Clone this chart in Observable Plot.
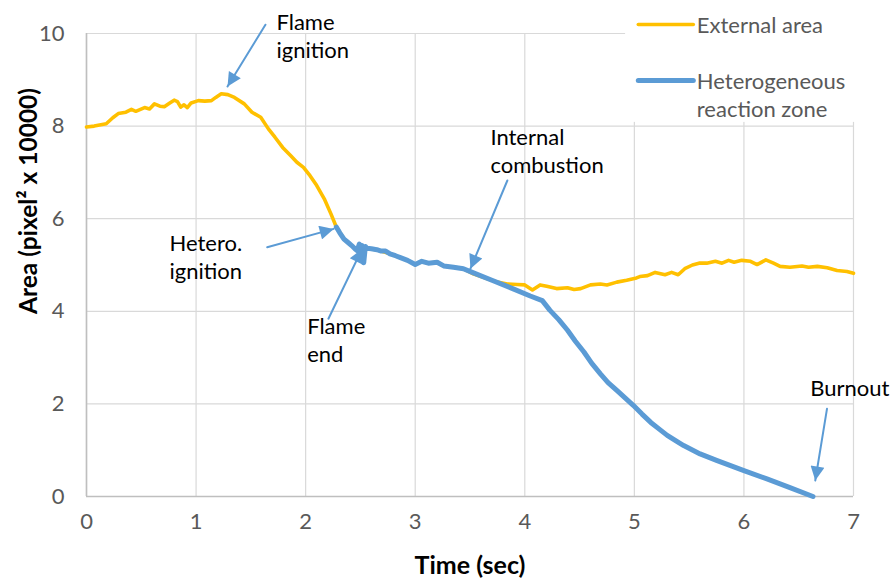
<!DOCTYPE html>
<html>
<head>
<meta charset="utf-8">
<script src="https://cdn.jsdelivr.net/npm/d3@7"></script>
<script src="https://cdn.jsdelivr.net/npm/@observablehq/plot@0.6"></script>
<style>
  html, body { margin: 0; padding: 0; background: #fff; }
  #chart svg { display: block; overflow: visible; }
</style>
</head>
<body>
<div id="chart"></div>
<script>
// ---- Data ----
const externalTime = [0,0.07,0.18,0.24,0.29,0.36,0.41,0.45,0.53,0.575,0.62,0.67,0.71,0.76,0.80,0.83,0.86,0.89,0.92,0.955,1.02,1.08,1.14,1.18,1.23,1.29,1.35,1.44,1.51,1.59,1.66,1.72,1.79,1.86,1.92,1.98,2.04,2.10,2.17,2.23,2.28,2.35,2.42,2.47,2.55,2.65,2.77,2.93,3.00,3.06,3.12,3.20,3.26,3.35,3.44,3.53,3.66,3.75,3.84,3.93,4.00,4.07,4.14,4.20,4.29,4.39,4.45,4.51,4.60,4.69,4.75,4.84,4.93,5.02,5.05,5.12,5.19,5.28,5.34,5.40,5.46,5.53,5.59,5.66,5.74,5.80,5.86,5.91,5.98,6.06,6.12,6.20,6.27,6.33,6.42,6.53,6.59,6.67,6.76,6.85,6.94,7.00];
const externalArea = [7.98,8.00,8.05,8.18,8.27,8.30,8.36,8.32,8.40,8.37,8.48,8.43,8.42,8.50,8.56,8.53,8.41,8.46,8.40,8.50,8.55,8.54,8.55,8.62,8.70,8.68,8.62,8.48,8.30,8.19,7.94,7.76,7.54,7.37,7.22,7.11,6.93,6.72,6.43,6.11,5.82,5.56,5.42,5.31,5.36,5.33,5.24,5.10,5.01,5.08,5.04,5.06,4.98,4.95,4.92,4.81,4.70,4.63,4.59,4.58,4.57,4.46,4.57,4.54,4.49,4.51,4.47,4.49,4.57,4.59,4.57,4.63,4.67,4.72,4.75,4.77,4.84,4.79,4.84,4.79,4.92,5.00,5.04,5.04,5.08,5.04,5.10,5.06,5.10,5.08,5.01,5.11,5.04,4.97,4.95,4.98,4.95,4.97,4.94,4.88,4.86,4.82];

const heteroTime = [2.28,2.31,2.35,2.39,2.42,2.45,2.47,2.49,2.505,2.515,2.53,2.545,2.56,2.60,2.65,2.69,2.73,2.77,2.82,2.865,2.93,3.00,3.06,3.12,3.20,3.26,3.35,3.44,3.52,3.70,3.90,4.05,4.16,4.23,4.31,4.39,4.46,4.54,4.61,4.69,4.76,4.84,4.92,4.99,5.07,5.15,5.23,5.30,5.38,5.45,5.60,5.75,6.00,6.21,6.42,6.63];
const heteroArea = [5.82,5.70,5.56,5.48,5.42,5.35,5.31,5.45,5.10,5.42,5.05,5.40,5.36,5.35,5.33,5.30,5.30,5.24,5.20,5.16,5.10,5.01,5.08,5.04,5.06,4.98,4.95,4.92,4.84,4.67,4.48,4.33,4.23,4.02,3.82,3.59,3.36,3.12,2.88,2.65,2.46,2.29,2.12,1.97,1.78,1.60,1.45,1.32,1.20,1.10,0.92,0.78,0.56,0.38,0.19,0.0];

const xTicks = [0,1,2,3,4,5,6,7];
const yTicks = [0,2,4,6,8,10];
const seriesNames = ["External area", "Heterogeneous\nreaction zone"];
const seriesColors = ["#FFC000", "#5B9BD5"];

// annotation labels and the curve points they point at (time, area)
const annLabels = ["Flame\nignition", "Hetero.\nignition", "Flame\nend", "Internal\ncombustion", "Burnout"];
const annTipTime = [1.287, 2.256, 2.516, 3.504, 6.651];
const annTipArea = [8.855, 5.78, 5.35, 4.92, 0.346];

// ---- Layout (annotation text / arrow tails, legend placement, in data units) ----
const annTail = [[1.633,10.19],[1.649,5.385],[2.208,3.84],[3.841,6.825],[6.758,1.894]];
const annText = [[1.734,9.97],[0.757,5.20],[2.014,3.40],[3.686,7.49],[6.606,2.37]];
const legendX1 = 5.036, legendX2 = 5.538, legendTextX = 5.57;
const legendY = [10.194, 8.985];
const legendTextY = [10.194, 8.70];

const external = externalTime.map((t, i) => ({t, a: externalArea[i]}));
const hetero = heteroTime.map((t, i) => ({t, a: heteroArea[i]}));
const anns = annLabels.map((label, i) => ({
  label,
  x1: annTail[i][0], y1: annTail[i][1],
  x2: annTipTime[i], y2: annTipArea[i],
  tx: annText[i][0], ty: annText[i][1]
}));
const legend = seriesNames.map((name, i) => ({name, color: seriesColors[i], w: i === 0 ? 3.6 : 5, y: legendY[i], ty: legendTextY[i]}));

const FONT = "Lato, 'Open Sans', sans-serif";
const chart = Plot.plot({
  width: 893,
  height: 581,
  marginLeft: 86,
  marginRight: 40,
  marginTop: 33,
  marginBottom: 85,
  style: {fontFamily: FONT, fontSize: "22px", color: "#595959", background: "#fff", overflow: "visible"},
  x: {domain: [0, 7]},
  y: {domain: [0, 10]},
  marks: [
    Plot.gridX(xTicks, {stroke: "#d9d9d9", strokeOpacity: 1, strokeWidth: 1.2}),
    Plot.gridY(yTicks, {stroke: "#d9d9d9", strokeOpacity: 1, strokeWidth: 1.2}),
    // white legend background box
    Plot.rect([0], {x1: 4.92, x2: 7.5, y1: 8.08, y2: 11.2, fill: "#fff"}),
    Plot.ruleX([0], {stroke: "#bfbfbf", strokeWidth: 1.6}),
    Plot.ruleY([0], {stroke: "#bfbfbf", strokeWidth: 1.6}),
    Plot.axisX(xTicks, {tickSize: 0, tickPadding: 17, label: null, fontSize: 22, fill: "#595959"}),
    Plot.axisY(yTicks, {tickSize: 0, tickPadding: 22, label: null, fontSize: 22, fill: "#595959"}),
    Plot.text(["Time (sec)"], {frameAnchor: "bottom", dy: 69, fontSize: 25, fontWeight: "bold", fill: "#000", textAnchor: "middle", lineAnchor: "middle"}),
    Plot.text(["Area (pixel² x 10000)"], {frameAnchor: "left", dx: -57, dy: -64, rotate: -90, fontSize: 24.5, fontWeight: "bold", fill: "#000", textAnchor: "middle", lineAnchor: "middle"}),
    Plot.line(external, {x: "t", y: "a", stroke: seriesColors[0], strokeWidth: 3.6, strokeLinejoin: "round", strokeLinecap: "round"}),
    Plot.line(hetero, {x: "t", y: "a", stroke: seriesColors[1], strokeWidth: 5, strokeLinejoin: "round", strokeLinecap: "round"}),
    // legend
    Plot.link(legend, {x1: legendX1, x2: legendX2, y1: "y", y2: "y", stroke: "color", strokeWidth: "w", strokeLinecap: "round"}),
    Plot.text(legend, {x: legendTextX, y: "ty", text: "name", textAnchor: "start", lineAnchor: "middle", lineHeight: 1.27, fontSize: 22, fill: "#595959"}),
    // annotations
    Plot.arrow(anns, {x1: "x1", y1: "y1", x2: "x2", y2: "y2", stroke: seriesColors[1], strokeWidth: 2, headLength: 0}),
    Plot.text(anns, {x: "tx", y: "ty", text: "label", textAnchor: "start", lineAnchor: "middle", lineHeight: 1.27, fontSize: 22, fill: "#000"})
  ]
});

// filled triangle heads on annotation arrows
const svg = d3.select(chart);
const defs = svg.insert("defs", ":first-child");
defs.append("marker")
  .attr("id", "tri-head")
  .attr("viewBox", "0 0 10 10")
  .attr("refX", 10).attr("refY", 5)
  .attr("markerWidth", 17).attr("markerHeight", 14)
  .attr("markerUnits", "userSpaceOnUse")
  .attr("orient", "auto")
  .append("path").attr("d", "M0,0L10,5L0,10Z").attr("fill", seriesColors[1]);
svg.selectAll('g[aria-label="arrow"] path').attr("marker-end", "url(#tri-head)");

document.getElementById("chart").appendChild(chart);
</script>
</body>
</html>
